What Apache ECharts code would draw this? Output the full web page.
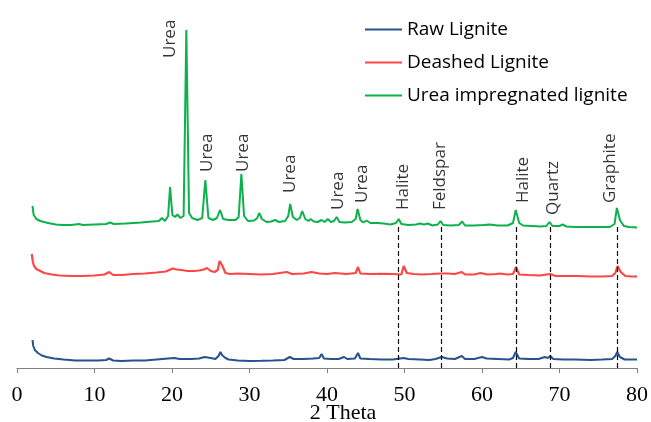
<!DOCTYPE html>
<html>
<head>
<meta charset="utf-8">
<script src="https://cdn.jsdelivr.net/npm/echarts@6/dist/echarts.min.js"></script>
<style>
  html, body { margin: 0; padding: 0; background: #fff; }
  #xrd { width: 651px; height: 422px; }
</style>
</head>
<body>
<div id="xrd"></div>
<script>
// 2 Theta ticks
var xTicks = [0, 10, 20, 30, 40, 50, 60, 70, 80];

// intensity (offset, arbitrary units)
var rawLignite = [
  [2.0,28],[2.1,22],[2.3,18],[2.7,15],[3.2,12.5],[3.8,11],[4.8,9.5],[6,8.5],[7.5,7.5],[9,7.5],
  [10.5,7.5],[11.5,8],[11.9,9.5],[12.4,7.5],[13.5,7],[15,7.5],[16.5,7.5],[18,8.5],[19.5,9.5],[20.3,10],
  [21,9],[22.5,9],[23.5,9.5],[24.2,11],[25,10],[25.6,9],[26.0,12],[26.25,16],[26.45,13],[26.65,15],
  [26.9,10],[27.3,8.5],[28.5,7.5],[30,7],[31.5,7.2],[33,7.5],[34.5,8],[35.2,11],[35.7,9],[37,9],
  [38.2,9.5],[39.0,10],[39.3,14],[39.6,9.5],[40.5,9],[41.5,9],[42.2,11],[42.6,9],[43.6,9.5],[44.0,15],
  [44.3,9.5],[45.5,9],[47,8.5],[48.5,8.5],[49.9,10],[50.5,9],[52,8.5],[53.2,8],[54.0,9],[54.8,11],
  [55.5,9.5],[56.5,9],[57.4,12],[57.8,9],[59,9],[60.0,11],[60.6,9.5],[62,9],[63.5,8.5],[64.0,10],
  [64.35,16],[64.8,9.5],[66,9],[67.3,9],[68.1,11],[68.5,10],[68.8,12],[69.2,9],[70.5,8.5],[72,8.5],
  [74,8],[75.5,8.5],[76.8,9],[77.2,12],[77.45,16],[77.8,11],[78.4,8.5],[79.2,8.5],[80,8.5]
];

var deashedLignite = [
  [1.9,114],[2.05,106],[2.2,102],[2.5,99],[3,97],[3.5,95],[4.5,93.5],[5.5,92.5],[7,92],[8.5,92],
  [10,92.5],[11.3,93.5],[11.9,96],[12.4,93],[13.5,93],[15,94],[16.5,94.5],[18,95.5],[19.2,96.5],[20.1,99.5],
  [20.6,98.5],[21.2,98],[22,97],[22.8,97],[23.5,97.5],[24.1,98.5],[24.5,100],[25.0,97],[25.5,96],[25.9,98],
  [26.15,107],[26.45,103],[26.9,95],[27.5,94],[28.5,94.5],[30,94],[31.5,93.5],[33,94],[34.8,96],[35.5,94],
  [37,94.5],[38,96],[39,94.5],[40,94],[41,95],[42.5,94],[43.7,95],[44.0,101],[44.3,94.5],[45.5,94],
  [47,94.2],[48.5,94],[49.6,93.5],[49.9,102],[50.3,95],[51.2,94],[52.2,93.5],[53.5,94],[54.7,94.5],[55.5,94.5],
  [56.5,94],[57.4,96],[57.8,93.5],[59,93.5],[59.8,95],[60.7,93.5],[61.8,94],[62.3,94.5],[63.3,93.5],[64.0,94],
  [64.4,101],[64.8,93.5],[66,93],[67.5,92.5],[68.8,94],[69.5,92],[71,92],[72.5,92],[74,91.5],[75.5,91.5],
  [76.8,92],[77.2,95],[77.5,102],[77.9,96],[78.5,92],[79.3,91.5],[80,91.5]
];

var ureaLignite = [
  [2.0,162],[2.15,153],[2.5,149],[3,147],[4,145],[5,143.5],[6,143],[7,143],[8,144],[8.5,143],
  [10,143.5],[11.5,144],[12,145.5],[12.5,144],[14,144.5],[16,145.5],[17.5,146.5],[18.3,147],[18.7,150],[19.1,147],
  [19.5,152],[19.75,181],[20.05,153],[20.4,151],[20.7,153.5],[21.1,150],[21.5,152],[21.85,338],[22.2,155],[22.6,150],
  [23.3,148],[23.9,150],[24.3,188],[24.7,150],[25.3,148],[25.8,150],[26.2,158],[26.6,149],[27.3,148],[28.2,148],
  [28.6,151],[28.95,194],[29.3,152],[29.8,147],[30.6,147.5],[31.0,150],[31.25,155],[31.6,149],[32.2,146],[32.8,146.5],
  [33.3,148],[33.8,146],[34.6,147],[35.0,152],[35.25,164],[35.6,151],[36.1,148],[36.5,150],[36.8,157],[37.2,149],
  [37.6,147],[37.9,149],[38.3,146.5],[38.8,146],[39.3,148],[39.7,146],[40.1,149],[40.5,146],[40.9,147],[41.25,151],
  [41.6,146],[42.3,145.5],[43.2,146],[43.7,149],[43.95,159],[44.3,148],[44.7,145.5],[45.1,147.5],[45.6,145],[46.5,145],
  [47.3,144.5],[48.2,143.5],[48.9,145],[49.25,149],[49.6,144],[50.5,143],[51.5,143.5],[52.0,144.5],[52.5,143.5],[53.0,144.5],
  [53.6,142.5],[54.3,143.5],[54.65,147],[55.0,143],[56,142.5],[57.0,143],[57.45,146.5],[57.8,142.5],[59,142.5],[60.2,143],
  [61.0,143.5],[62,142.5],[63.3,142.5],[64.0,145],[64.35,158],[64.8,145],[65.3,142.5],[66.5,142],[67.5,141.5],[68.3,142],
  [68.7,146],[69.1,142],[70.0,142],[70.4,143.5],[70.9,141.5],[72,141],[73.5,141],[75,141],[76.5,141],[77.1,144],
  [77.4,160],[77.8,148],[78.3,142],[79,141],[80,140.5]
];

// phase annotations: [2theta, intensity where the text starts, name]
var peakLabels = [
  [19.7,310,'Urea'],[24.5,196,'Urea'],[29.2,196,'Urea'],[35.2,175,'Urea'],[41.4,158,'Urea'],[44.6,165,'Urea'],
  [49.8,158,'Halite'],[54.6,158,'Feldspar'],[65.3,165,'Halite'],[69.2,153,'Quartz'],[76.5,165,'Graphite']
];

// dashed reference lines (2theta)
var phaseLines = [49.2, 54.7, 64.4, 68.8, 77.5];

var seriesNames = ['Raw Lignite', 'Deashed Lignite', 'Urea impregnated lignite'];
var seriesColors = ['#28518f', '#ff4545', '#0db14b'];

var dashData = [];
for (var i = 0; i < phaseLines.length; i++) {
  dashData.push([{coord: [phaseLines[i], 141]}, {coord: [phaseLines[i], 0]}]);
}

var myChart = echarts.init(document.getElementById('xrd'));
var option = {
  animation: false,
  grid: { left: 17, right: 14, top: 28, bottom: 54, outerBoundsMode: 'none' },
  legend: {
    data: seriesNames,
    orient: 'vertical',
    left: 360,
    top: 15,
    icon: 'rect',
    itemWidth: 37,
    itemHeight: 2,
    itemGap: 14,
    textStyle: { fontFamily: 'Open Sans', fontSize: 19, color: '#000', lineHeight: 19 }
  },
  xAxis: {
    type: 'value',
    min: xTicks[0],
    max: xTicks[xTicks.length - 1],
    interval: 10,
    name: '2 Theta',
    nameLocation: 'middle',
    nameGap: 34,
    nameMoveOverlap: false,
    nameTextStyle: { fontFamily: 'Liberation Serif', fontSize: 22, color: '#000', padding: [0, 0, 0, 32] },
    axisLine: { lineStyle: { color: '#808080', width: 1.2 } },
    axisTick: { inside: false, length: 5, lineStyle: { color: '#808080' } },
    axisLabel: { fontFamily: 'Liberation Serif', fontSize: 22, color: '#000', margin: 16 },
    splitLine: { show: false }
  },
  yAxis: {
    type: 'value',
    min: 0,
    max: 340,
    show: false
  },
  series: [
    {
      name: seriesNames[0], type: 'line', data: rawLignite, showSymbol: false,
      color: seriesColors[0], lineStyle: { width: 2 }, z: 3,
      markLine: {
        silent: true, symbol: ['none', 'none'], label: { show: false },
        lineStyle: { color: '#000', type: [5, 3], width: 1.2 },
        data: dashData
      }
    },
    {
      name: seriesNames[1], type: 'line', data: deashedLignite, showSymbol: false,
      color: seriesColors[1], lineStyle: { width: 2.2 }, z: 3
    },
    {
      name: seriesNames[2], type: 'line', data: ureaLignite, showSymbol: false,
      color: seriesColors[2], lineStyle: { width: 2 }, z: 4
    },
    {
      name: 'labels', type: 'scatter', symbolSize: 0, silent: true,
      data: peakLabels,
      label: {
        show: true,
        position: [0, 0],
        rotate: 90,
        align: 'left',
        verticalAlign: 'middle',
        fontFamily: 'Open Sans',
        fontSize: 17,
        color: '#000',
        formatter: function (p) { return p.value[2]; }
      }
    }
  ]
};
myChart.setOption(option);
</script>
</body>
</html>
